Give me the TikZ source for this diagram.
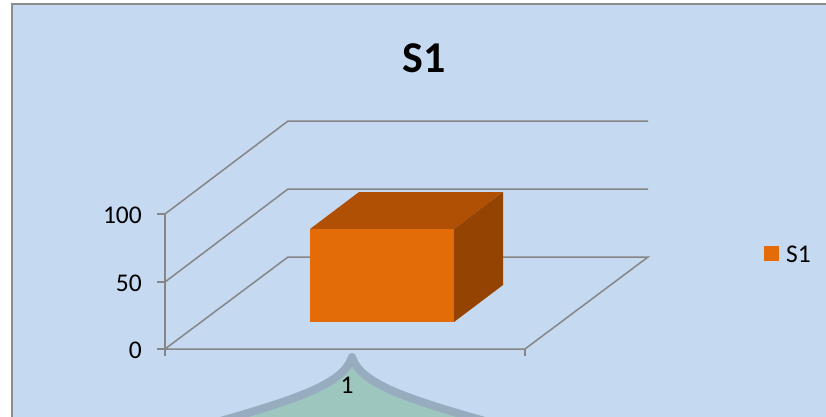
\documentclass[tikz,border=0pt]{standalone}
\usepackage{fontspec}
\setmainfont{Carlito}
\definecolor{chartbg}{RGB}{197,217,241}
\definecolor{framegray}{RGB}{140,140,140}
\definecolor{axisgray}{RGB}{134,134,134}
\definecolor{barfront}{RGB}{227,108,9}
\definecolor{bartop}{RGB}{176,80,4}
\definecolor{barside}{RGB}{148,67,3}
\definecolor{tealfill}{RGB}{157,198,190}
\definecolor{tealline}{RGB}{152,172,192}
\begin{document}
\begin{tikzpicture}[x=1pt,y=-1pt,
  axis/.style={draw=axisgray,line width=1.5pt},
  ticklabel/.style={anchor=east,inner sep=0pt,font=\fontsize{25.5}{30}\selectfont},
  lbl/.style={inner sep=0pt,font=\fontsize{25.5}{30}\selectfont}]
\useasboundingbox (0,0) rectangle (826,417);
\fill[white] (0,0) rectangle (826,417);
\draw[fill=chartbg,draw=framegray,line width=2pt] (11.5,4.5) rectangle (840,430);
% title
\node[inner sep=0pt,font=\fontsize{44}{50}\selectfont\bfseries] (title) at (424,58) {S1};
% coordinates of the 3D frame
\coordinate (f0) at (165,349);
\coordinate (f50) at (165,282);
\coordinate (f100) at (165,214);
\coordinate (b0) at (288,257);
\coordinate (b50) at (288,189);
\coordinate (b100) at (288,121);
\coordinate (r0) at (648,257);
\coordinate (r50) at (648,189);
\coordinate (r100) at (648,121);
\coordinate (fr) at (525,349);
% walls / gridlines
\draw[axis] (f0) -- (b0) -- (r0) -- (fr) -- (f0);
\draw[axis] (f50) -- (b50) -- (r50);
\draw[axis] (f100) -- (b100) -- (r100);
\draw[axis] (f100) -- (f0);
% ticks
\draw[axis] (157,349) -- (f0) -- (165,356);
\draw[axis] (157,282) -- (f50);
\draw[axis] (157,214) -- (f100);
\draw[axis] (fr) -- (525,356);
% tick labels
\node[ticklabel] (l0) at (142,350) {0};
\node[ticklabel] (l50) at (142,283) {50};
\node[ticklabel] (l100) at (142,215) {100};
% bar
\coordinate (p1) at (310,229);
\coordinate (p2) at (454,229);
\coordinate (p3) at (454,322);
\coordinate (p4) at (310,322);
\coordinate (q1) at (359,192);
\coordinate (q2) at (503,192);
\coordinate (q3) at (503,285);
\fill[bartop] (p1) -- (q1) -- (q2) -- (p2) -- cycle;
\fill[barside] (p2) -- (q2) -- (q3) -- (p3) -- cycle;
\fill[barfront] (p1) -- (p2) -- (p3) -- (p4) -- cycle;
% teal cusp shape
\draw[fill=tealfill,draw=tealline,line width=8pt,line join=round]
  (196,428) .. controls (295,400) and (343,385) .. (352,357)
  .. controls (361,385) and (409,400) .. (510,428) -- cycle;
\node[lbl] (cat) at (347,385) {1};
% legend
\fill[barfront] (764,246) rectangle (779,261);
\node[lbl,anchor=west] (leg) at (786,254) {S1};
\end{tikzpicture}
\end{document}
